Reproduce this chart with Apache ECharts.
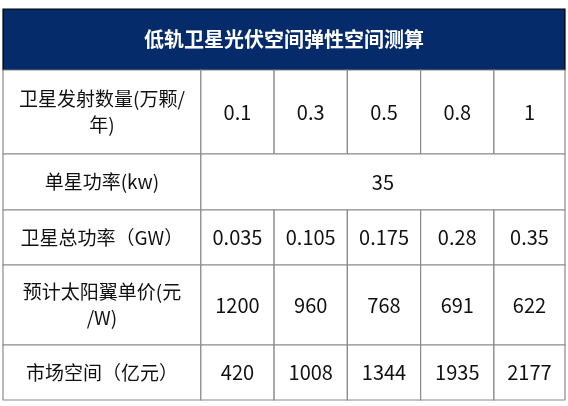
<!DOCTYPE html>
<html>
<head>
<meta charset="utf-8">
<script src="https://cdn.jsdelivr.net/npm/echarts@6/dist/echarts.min.js"></script>
<style>
  html, body { margin: 0; padding: 0; background: #fff; }
  #main { width: 568px; height: 406px; }
</style>
</head>
<body>
<div id="main"></div>
<script>
// table content
const title = '低轨卫星光伏空间弹性空间测算';
const rowLabels = ['卫星发射数量(万颗/\n年)', '单星功率(kw)', '卫星总功率（GW）', '预计太阳翼单价(元\n/W)', '市场空间（亿元）'];
const launches = ['0.1', '0.3', '0.5', '0.8', '1'];
const powerPerSat = '35';
const totalPower = ['0.035', '0.105', '0.175', '0.28', '0.35'];
const unitPrice = ['1200', '960', '768', '691', '622'];
const marketSpace = ['420', '1008', '1344', '1935', '2177'];

// layout: column edges in column units, row edges in pixel-ish units
const colEdges = [0, 2.7, 3.7, 4.7, 5.7, 6.7, 7.67];
const rowEdges = [0, 61, 145, 201, 256, 336, 391];

// cells: [col0, col1, row, text, kind]
const cells = [];
cells.push([0, 6, 0, title, 'head']);
const rows = [launches, null, totalPower, unitPrice, marketSpace];
rowLabels.forEach((lab, r) => {
  cells.push([0, 1, r + 1, lab, 'label']);
  if (rows[r]) rows[r].forEach((v, i) => cells.push([i + 1, i + 2, r + 1, v, 'val']));
  else cells.push([1, 6, r + 1, powerPerSat, 'val']);
});

const fonts = {
  head: 'bold 20px "Noto Sans CJK SC", sans-serif',
  label: '19px "Noto Sans CJK SC", sans-serif',
  val: '20px "Noto Sans CJK SC", sans-serif'
};

const chart = echarts.init(document.getElementById('main'));
chart.setOption({
  animation: false,
  grid: { left: 3, right: 3, top: 9, bottom: 6 },
  xAxis: { type: 'value', min: 0, max: colEdges[6], show: false },
  yAxis: { type: 'value', min: 0, max: rowEdges[6], inverse: true, show: false },
  series: [{
    type: 'custom',
    data: cells,
    renderItem: (params, api) => {
      const d = cells[params.dataIndex];
      const p0 = api.coord([colEdges[d[0]], rowEdges[d[2]]]);
      const p1 = api.coord([colEdges[d[1]], rowEdges[d[2] + 1]]);
      const head = d[4] === 'head';
      return {
        type: 'group',
        children: [{
          type: 'rect',
          shape: { x: p0[0], y: p0[1], width: p1[0] - p0[0], height: p1[1] - p0[1] },
          style: { fill: head ? '#062B6B' : '#fff', stroke: head ? '#000' : '#8a8a8a', lineWidth: 1.2 }
        }, {
          type: 'text',
          style: {
            x: (p0[0] + p1[0]) / 2, y: (p0[1] + p1[1]) / 2,
            text: d[3], align: 'center', verticalAlign: 'middle',
            fill: head ? '#fff' : '#111',
            font: fonts[d[4]],
            lineHeight: 26
          }
        }]
      };
    }
  }]
});
</script>
</body>
</html>
